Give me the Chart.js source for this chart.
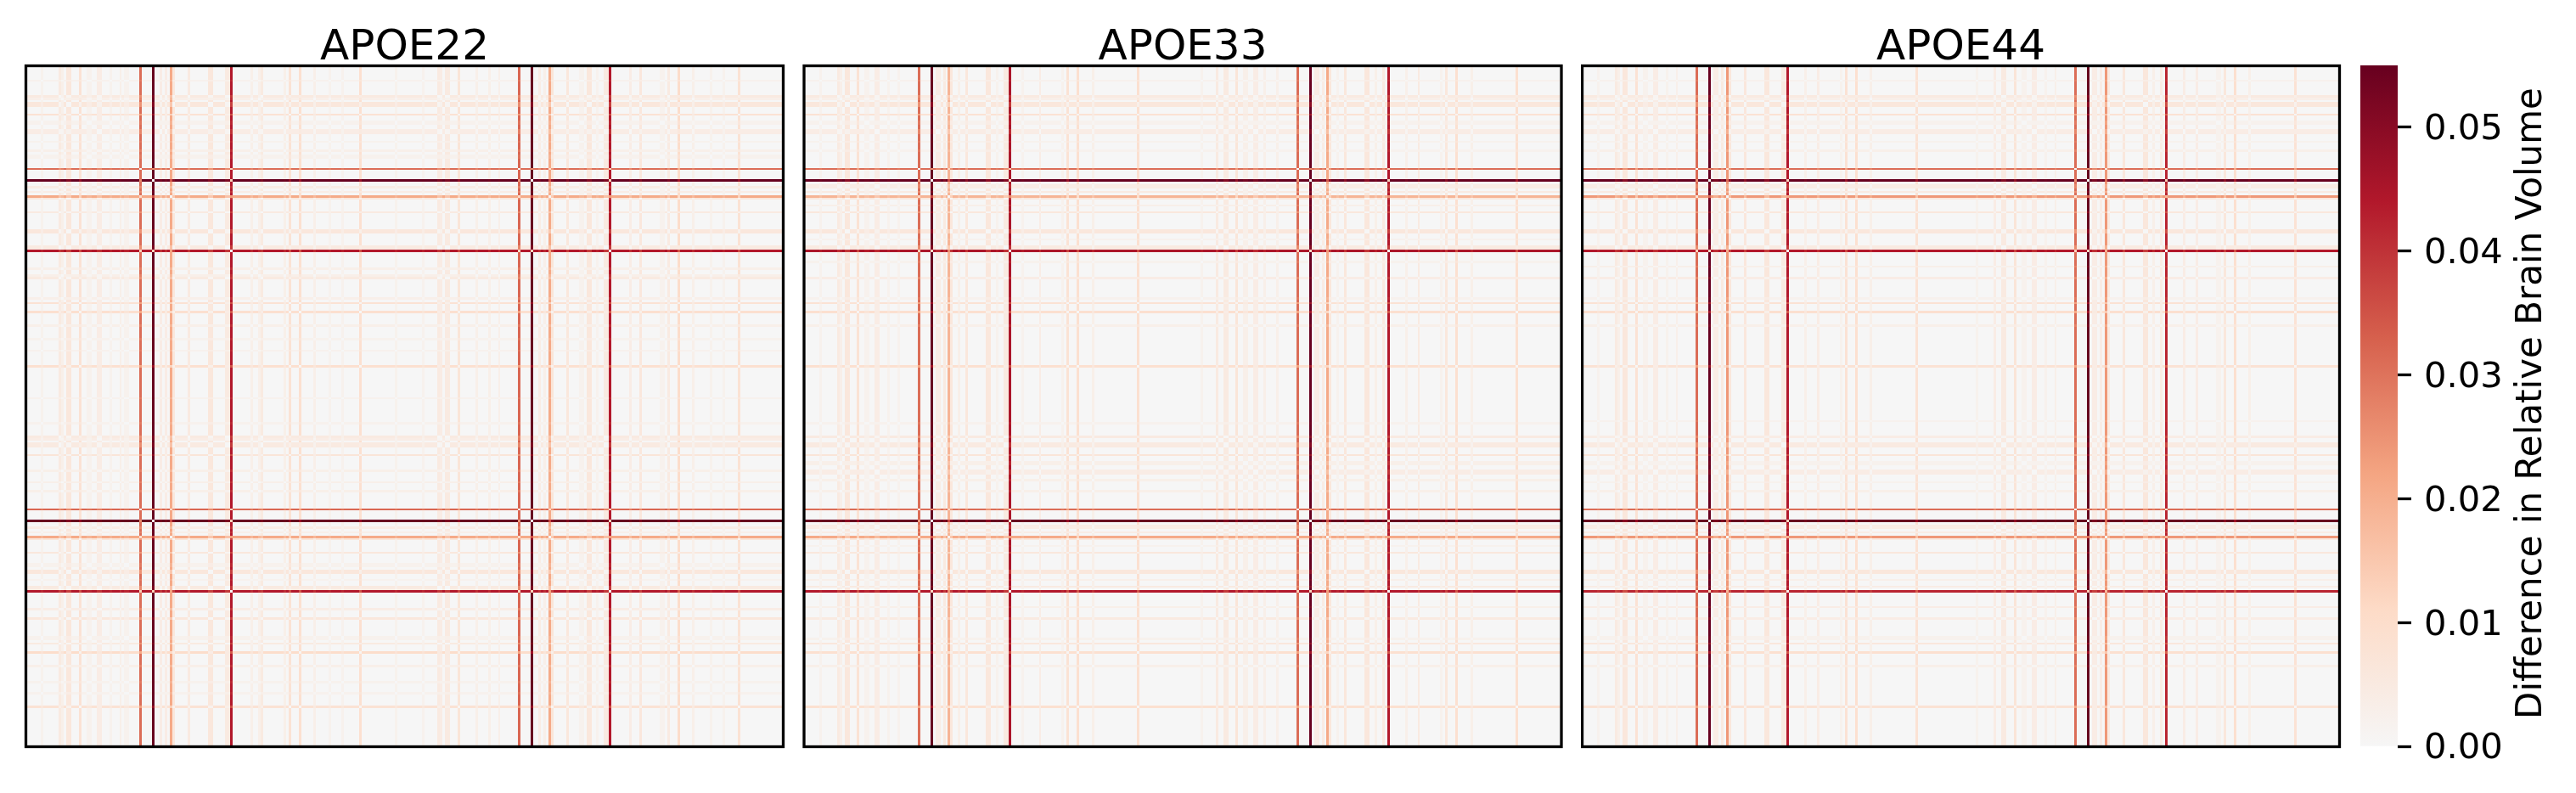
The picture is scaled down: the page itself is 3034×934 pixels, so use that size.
<!DOCTYPE html>
<html>
<head>
<meta charset="utf-8">
<title>APOE relative brain volume differences</title>
<script src="https://cdn.jsdelivr.net/npm/chart.js@4/dist/chart.umd.min.js"></script>
<style>
html,body{margin:0;padding:0;background:#fff;width:3034px;height:934px;overflow:hidden}
canvas{position:absolute;top:0}
</style>
</head>
<body>
<canvas id="c1" width="945" height="934" style="left:0"></canvas>
<canvas id="c2" width="917" height="934" style="left:945px"></canvas>
<canvas id="c3" width="898" height="934" style="left:1862px"></canvas>
<canvas id="cb" width="274" height="934" style="left:2760px"></canvas>
<script>
// ---------- data ----------
const regionCount = 300;
const panelTitles = ['APOE22', 'APOE33', 'APOE44'];
const colorbarLabel = 'Difference in Relative Brain Volume';
const colorbarTicks = [0, 0.01, 0.02, 0.03, 0.04, 0.05];
const colorbarMax = 0.055;
const colormapStops = ['#f6f6f6', '#fddbc7', '#f4a582', '#d6604d', '#b2182b', '#67001f'];

// Regions standing out from the rest, and their relative volume offset.
const apoe22Regions = [6,13,14,16,17,21,24,25,28,29,33,37,39,40,45,50,53,55,57,58,64,72,73,79,80,81,89,92,93,102,104,108,114,120,125,132,146,157,163,164,166,167,171,178,183,187,195,200,203,205,207,208,214,219,220,222,223,226,229,230,231,239,243,251,252,254,258,264,271,276,282];
const apoe22Values  = [.002,.005,.003,.006,.006,.008,.002,.002,.004,.004,.002,.003,.002,.002,.031,.057,.004,.004,.021,.006,.005,.006,.006,.005,.005,.044,.003,.003,.005,.003,.008,.009,.003,.002,.002,.009,.002,.002,.005,.004,.005,.005,.007,.003,.003,.003,.032,.057,.004,.003,.021,.007,.006,.002,.002,.006,.006,.002,.005,.005,.044,.004,.006,.002,.002,.005,.010,.003,.002,.002,.008];

const apoe33Regions = [6,13,14,16,17,21,24,25,28,29,33,37,45,50,52,53,55,57,58,61,64,72,73,76,79,80,81,86,93,102,104,108,114,132,157,163,166,167,171,174,175,178,179,182,187,195,200,202,203,205,207,208,211,214,222,223,226,229,231,238,243,252,254,258,264,282];
const apoe33Values  = [.002,.005,.003,.006,.006,.008,.002,.002,.004,.004,.002,.002,.031,.056,.004,.004,.005,.019,.006,.003,.006,.006,.006,.002,.005,.005,.045,.002,.004,.002,.008,.009,.003,.009,.002,.005,.005,.005,.007,.003,.003,.004,.004,.003,.003,.031,.056,.004,.004,.004,.021,.006,.002,.006,.006,.006,.003,.005,.044,.003,.005,.002,.006,.009,.003,.009];

const apoe44Regions = [6,13,14,16,17,21,24,25,28,29,33,37,45,50,52,53,55,57,58,64,72,73,79,80,81,88,93,102,104,108,114,132,156,163,166,167,171,174,175,178,179,183,187,195,200,202,203,205,207,208,214,222,223,226,229,231,238,243,251,252,254,258,264,282];
const apoe44Values  = [.002,.005,.003,.006,.006,.008,.002,.002,.004,.004,.002,.003,.031,.056,.004,.004,.005,.024,.006,.006,.006,.006,.005,.005,.044,.003,.004,.002,.008,.009,.003,.008,.002,.004,.005,.005,.007,.002,.002,.004,.004,.002,.003,.031,.056,.004,.004,.004,.024,.005,.006,.006,.006,.003,.004,.042,.004,.004,.002,.002,.006,.009,.003,.008];

// ---------- helpers ----------
const FONT = '"DejaVu Sans", sans-serif';
const hexRgb = h => [1,3,5].map(i => parseInt(h.substr(i,2),16));
const stopsRgb = colormapStops.map(hexRgb);
const colorFor = v => {
  const t = Math.min(v / colorbarMax, 1) * (stopsRgb.length - 1);
  const k = Math.min(Math.floor(t), stopsRgb.length - 2), f = t - k;
  const a = stopsRgb[k], b = stopsRgb[k+1];
  return `rgb(${a.map((c,i)=>Math.round(c+(b[i]-c)*f)).join(',')})`;
};
// One cell per region pair: the difference between the two regions' offsets.
const buildCells = (regions, values) => {
  const offsets = new Float64Array(regionCount);
  regions.forEach((r,i) => { offsets[r] = values[i]; });
  const cells = [];
  for (let row = 0; row < regionCount; row++)
    for (let col = 0; col < regionCount; col++)
      cells.push({x: col, y: row, v: Math.abs(offsets[col] - offsets[row])});
  return cells;
};

// ---------- a small matrix controller drawn through the chart's scales ----------
class HeatCell extends Chart.Element {
  draw(ctx) {
    ctx.fillStyle = this.color;
    ctx.fillRect(this.x, this.y, this.width, this.height);
  }
}
HeatCell.id = 'heatCell';
HeatCell.defaults = {};

class HeatController extends Chart.DatasetController {
  update() {
    const meta = this._cachedMeta;
    this.updateElements(meta.data, 0, meta.data.length);
  }
  updateElements(cells, start, count) {
    const {xScale, yScale, _parsed} = this._cachedMeta;
    const palette = new Map();
    for (let i = start; i < start + count; i++) {
      const p = _parsed[i], cell = cells[i];
      const x0 = Math.round(xScale.getPixelForValue(p.x)), x1 = Math.round(xScale.getPixelForValue(p.x + 1));
      const y0 = Math.round(yScale.getPixelForValue(p.y)), y1 = Math.round(yScale.getPixelForValue(p.y + 1));
      const key = p.v;
      if (!palette.has(key)) palette.set(key, colorFor(p.v));
      cell.x = x0; cell.y = y0; cell.width = x1 - x0; cell.height = y1 - y0;
      cell.color = palette.get(key);
    }
  }
}
HeatController.id = 'heat';
HeatController.defaults = {dataElementType: 'heatCell', datasetElementType: false};
Chart.register(HeatCell, HeatController);

const framePlugin = {
  id: 'frame',
  afterDraw(chart) {
    const {ctx, chartArea: a} = chart;
    ctx.save();
    ctx.strokeStyle = '#000';
    ctx.lineWidth = 3.3;
    ctx.strokeRect(a.left, a.top, a.right - a.left, a.bottom - a.top);
    ctx.restore();
  }
};

// ---------- panels ----------
const panels = [
  {id:'c1', regions:apoe22Regions, values:apoe22Values, left:30.5, right:945-922.5},
  {id:'c2', regions:apoe33Regions, values:apoe33Values, left:947-945, right:917-(1839-945)},
  {id:'c3', regions:apoe44Regions, values:apoe44Values, left:1863.5-1862, right:898-(2755.5-1862)}
];
panels.forEach((p, n) => {
  new Chart(document.getElementById(p.id), {
    type: 'heat',
    data: {datasets: [{label: panelTitles[n], data: buildCells(p.regions, p.values), parsing: false}]},
    options: {
      responsive: false, animation: false, events: [],
      layout: {padding: {left: p.left, right: p.right, top: 0, bottom: 54.5}},
      scales: {
        x: {type: 'linear', min: 0, max: regionCount, display: false},
        y: {type: 'linear', min: 0, max: regionCount, reverse: true, display: false}
      },
      plugins: {
        legend: {display: false},
        tooltip: {enabled: false},
        title: {display: true, text: panelTitles[n], color: '#000',
                font: {family: FONT, size: 50, weight: 'normal', lineHeight: 1},
                padding: {top: 32, bottom: -4.5}}
      }
    },
    plugins: [framePlugin]
  });
});

// ---------- colour bar ----------
const colorbarLabelPlugin = {
  id: 'cbLabel',
  afterDraw(chart) {
    const {ctx} = chart;
    ctx.save();
    ctx.translate(2982 - 2760, 475);
    ctx.rotate(-Math.PI / 2);
    ctx.font = '42px ' + FONT;
    ctx.fillStyle = '#000';
    ctx.textAlign = 'center';
    ctx.textBaseline = 'middle';
    ctx.fillText(colorbarLabel, 0, 0);
    ctx.restore();
  }
};
new Chart(document.getElementById('cb'), {
  type: 'bar',
  data: {
    labels: [''],
    datasets: [{
      label: colorbarLabel,
      data: [[0, colorbarMax]],
      barPercentage: 1, categoryPercentage: 1, borderWidth: 0,
      backgroundColor(c) {
        const a = c.chart.chartArea;
        if (!a) return colormapStops[0];
        const g = c.chart.ctx.createLinearGradient(0, a.bottom, 0, a.top);
        colormapStops.forEach((s,i) => g.addColorStop(i / (colormapStops.length - 1), s));
        return g;
      }
    }]
  },
  options: {
    responsive: false, animation: false, events: [],
    layout: {padding: {left: 20, right: 0, top: 77, bottom: 55}},
    scales: {
      x: {display: false},
      y: {
        position: 'right', min: 0, max: colorbarMax,
        afterFit(s) { s.width = 210; },
        afterBuildTicks(s) { s.ticks = colorbarTicks.map(value => ({value})); },
        border: {display: false},
        grid: {drawOnChartArea: false, drawTicks: true, tickLength: 16, tickWidth: 3.3, tickColor: '#000'},
        ticks: {color: '#000', padding: 15, labelOffset: 3.5, font: {family: FONT, size: 41.67},
                callback: v => Number(v).toFixed(2)}
      }
    },
    plugins: {legend: {display: false}, tooltip: {enabled: false}, title: {display: false}}
  },
  plugins: [colorbarLabelPlugin]
});
</script>
</body>
</html>
